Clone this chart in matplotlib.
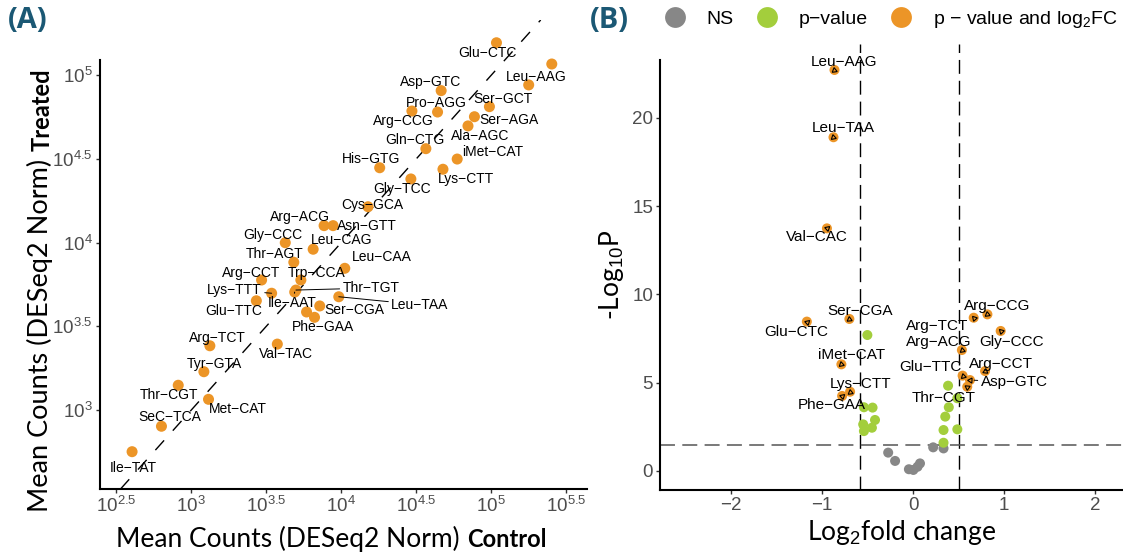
import numpy as np
import matplotlib
matplotlib.use('Agg')
import matplotlib.pyplot as plt
from matplotlib.lines import Line2D

plt.rcParams['font.family'] = ['Liberation Sans', 'DejaVu Sans']
plt.rcParams['mathtext.fontset'] = 'custom'
plt.rcParams['mathtext.rm'] = 'Liberation Sans'
plt.rcParams['mathtext.it'] = 'Liberation Sans:italic'
plt.rcParams['mathtext.bf'] = 'Liberation Sans:bold'

ORANGE = '#EC9527'
GREEN = '#A3CE3C'
GREY = '#878787'
TEAL = '#1B5874'
TICKCOL = '#4D4D4D'

W, H = 1123, 554

# ---- panel A: log10 of mean DESeq2-normalised counts ----
trna_a = ['Glu−CTC', '', 'Leu−AAG', 'Asp−GTC', 'Ser−GCT', 'Arg−CCG', 'Pro−AGG',
          'Ser−AGA', 'Ala−AGC', 'Gln−CTG', 'iMet−CAT', 'His−GTG', 'Lys−CTT',
          'Gly−TCC', 'Cys−GCA', 'Arg−ACG', 'Asn−GTT', 'Gly−CCC', 'Leu−CAG',
          'Thr−AGT', 'Leu−CAA', 'Arg−CCT', 'Trp−CCA', 'Thr−TGT', 'Lys−TTT',
          'Ile−AAT', 'Leu−TAA', 'Glu−TTC', 'Ser−CGA', '', 'Phe−GAA', 'Arg−TCT',
          'Val−TAC', 'Tyr−GTA', 'Thr−CGT', 'Met−CAT', 'SeC−TCA', 'Ile−TAT']
control_log = [5.036, 5.405, 5.251, 4.667, 4.989, 4.472, 4.643, 4.889, 4.846,
               4.565, 4.774, 4.257, 4.679, 4.465, 4.179, 3.886, 3.946, 3.627,
               3.813, 3.684, 4.024, 3.469, 3.731, 3.698, 3.536, 3.690, 3.984,
               3.434, 3.857, 3.769, 3.822, 3.124, 3.574, 3.084, 2.913, 3.115,
               2.801, 2.605]
treated_log = [5.195, 5.068, 4.943, 4.909, 4.813, 4.787, 4.781, 4.753, 4.698,
               4.562, 4.500, 4.448, 4.439, 4.381, 4.215, 4.102, 4.102, 4.000,
               3.961, 3.883, 3.847, 3.777, 3.777, 3.717, 3.698, 3.705, 3.677,
               3.653, 3.622, 3.586, 3.554, 3.384, 3.394, 3.229, 3.148, 3.064,
               2.903, 2.751]

# label offsets from the point in pixels (dx right, dy down)
offs_a = {
    'Glu−CTC': (-9, 10), 'Leu−AAG': (8, -8), 'Asp−GTC': (-11, -9),
    'Ser−GCT': (14, -8), 'Arg−CCG': (-9, 10), 'Pro−AGG': (-1, -9),
    'Ser−AGA': (35, 3), 'Ala−AGC': (12, 10), 'Gln−CTG': (-11, -9),
    'iMet−CAT': (35, -7), 'His−GTG': (-9, -9), 'Lys−CTT': (23, 10),
    'Gly−TCC': (-9, 10), 'Cys−GCA': (4, -2), 'Arg−ACG': (-24, -9),
    'Asn−GTT': (34, 0), 'Gly−CCC': (-12, -8), 'Leu−CAG': (28, -9),
    'Thr−AGT': (-19, -8), 'Leu−CAA': (37, -11), 'Arg−CCT': (-10, -7),
    'Trp−CCA': (16, -7), 'Thr−TGT': (75, -2), 'Lys−TTT': (-37, -3),
    'Ile−AAT': (-3, 11), 'Leu−TAA': (81, 8), 'Glu−TTC': (-23, 10),
    'Ser−CGA': (35, 4), 'Phe−GAA': (9, 10), 'Arg−TCT': (8, -8),
    'Val−TAC': (9, 10), 'Tyr−GTA': (10, -8), 'Thr−CGT': (-9, 10),
    'Met−CAT': (29, 10), 'SeC−TCA': (8, -9), 'Ile−TAT': (1, 16),
}
seg_a = {'Thr−TGT', 'Lys−TTT', 'Ile−AAT', 'Leu−TAA'}

x_ticks_a = [2.5, 3, 3.5, 4, 4.5, 5, 5.5]
y_ticks_a = [3, 3.5, 4, 4.5, 5]

# ---- panel B: volcano ----
sig_names = ['Leu−AAG', 'Leu−TAA', 'Val−CAC', 'Glu−CTC', 'Ser−CGA', 'iMet−CAT',
             'Lys−CTT', 'Phe−GAA', 'Arg−TCT', 'Arg−CCG', 'Gly−CCC', 'Arg−ACG',
             'Glu−TTC', 'Arg−CCT', 'Asp−GTC', 'Thr−CGT']
sig_lfc = [-0.865, -0.876, -0.948, -1.169, -0.701, -0.789, -0.693, -0.781,
           0.667, 0.818, 0.964, 0.537, 0.545, 0.792, 0.626, 0.596]
sig_p = [22.71, 18.90, 13.74, 8.46, 8.61, 6.04, 4.49, 4.25,
         8.68, 8.87, 7.93, 6.85, 5.40, 5.66, 5.15, 4.77]
offs_b = {
    'Leu−AAG': (10, -8), 'Leu−TAA': (10, -9), 'Val−CAC': (-10, 9),
    'Glu−CTC': (-11, 10), 'Ser−CGA': (11, -8), 'iMet−CAT': (10, -9),
    'Lys−CTT': (10, -8), 'Phe−GAA': (-10, 9), 'Arg−TCT': (-37, 8),
    'Arg−CCG': (10, -8), 'Gly−CCC': (11, 11), 'Arg−ACG': (-23, -8),
    'Glu−TTC': (-32, -9), 'Arg−CCT': (16, -7), 'Asp−GTC': (44, 2),
    'Thr−CGT': (-24, 11),
}
seg_b = {'Asp−GTC'}

pval_lfc = [-0.503, -0.541, -0.446, -0.419, -0.549, -0.453, -0.541,
            0.385, 0.487, 0.393, 0.354, 0.335, 0.487, 0.335]
pval_p = [7.70, 3.61, 3.59, 2.89, 2.64, 2.45, 2.26,
          4.83, 4.12, 3.61, 3.08, 2.32, 2.36, 1.60]

ns_lfc = [-0.274, -0.198, -0.046, 0.003, 0.049, 0.076, 0.221, 0.335]
ns_p = [1.04, 0.57, 0.10, 0.06, 0.24, 0.43, 1.34, 1.28]

fc_cut = [-0.585, 0.505]
p_cut = 1.5

fig = plt.figure(figsize=(W / 100, H / 100), dpi=100)


def px2pt(dx, dy):
    return dx * 0.72, -dy * 0.72


def style_axes(ax):
    for s in ['top', 'right']:
        ax.spines[s].set_visible(False)
    for s in ['left', 'bottom']:
        ax.spines[s].set_linewidth(1.5)
    ax.tick_params(length=3, width=1, color='#333333', labelcolor=TICKCOL,
                   labelsize=13.5, pad=2)
    ax.minorticks_off()


# ---------------- panel A ----------------
axA = fig.add_axes([100 / W, (H - 489) / H, (587 - 100) / W, (489 - 20) / H])
axA.set_xscale('log')
axA.set_yscale('log')
ctrl = 10 ** np.array(control_log)
treat = 10 ** np.array(treated_log)
axA.set_xlim(10 ** 2.391, 10 ** 5.64)
axA.set_ylim(10 ** 2.528, 10 ** 5.331)
axA.axline((1e3, 1e3), (1e5, 1e5), color='black', lw=1.0,
           dashes=(9.4, 9.4), zorder=2)
axA.scatter(ctrl, treat, s=63, color=ORANGE, edgecolors='none', zorder=3,
            clip_on=False)
for name, x, y in zip(trna_a, ctrl, treat):
    if not name:
        continue
    dx, dy = offs_a[name]
    kw = {}
    if name in seg_a:
        kw['arrowprops'] = dict(arrowstyle='-', color='black', lw=0.7,
                                shrinkA=0, shrinkB=0)
    axA.annotate(name, (x, y), xytext=px2pt(dx, dy), textcoords='offset points',
                 ha='center', va='center', fontsize=10, zorder=4, **kw)
style_axes(axA)
axA.spines['left'].set_bounds(10 ** 2.528, 10 ** 5.092)
axA.set_xticks([10 ** v for v in x_ticks_a])
axA.set_xticklabels([r'$10^{%g}$' % v for v in x_ticks_a])
axA.set_yticks([10 ** v for v in y_ticks_a])
axA.set_yticklabels([r'$10^{%g}$' % v for v in y_ticks_a])

fig.text(116 / W, 1 - 547 / H, 'Mean Counts (DESeq2 Norm)', family='Lato',
         fontsize=19, ha='left', va='baseline')
fig.text(547 / W, 1 - 547 / H, 'Control', family='Lato', fontweight='bold',
         fontsize=17, ha='right', va='baseline')
fig.text(40 / W, 1 - 512 / H, 'Mean Counts (DESeq2 Norm)', family='Lato',
         fontsize=19.5, rotation=90, ha='center', va='bottom')
fig.text(42 / W, 1 - 68 / H, 'Treated', family='Lato', fontweight='bold',
         fontsize=17, rotation=90, ha='center', va='top')

# ---------------- panel B ----------------
axB = fig.add_axes([660 / W, (H - 490) / H, (W - 660) / W, (490 - 44) / H])
axB.set_xlim(-2.785, 2.31)
axB.set_ylim(-1.076, 24.18)
for c in fc_cut:
    axB.axvline(c, color='black', lw=1.0, dashes=(10, 5), zorder=1)
axB.axhline(p_cut, color='#555555', lw=1.1, dashes=(9.8, 4.8), zorder=1)
axB.scatter(ns_lfc, ns_p, s=52, color=GREY, edgecolors='none', zorder=3)
axB.scatter(pval_lfc, pval_p, s=52, color=GREEN, edgecolors='none', zorder=3)
axB.scatter(sig_lfc, sig_p, s=52, color=ORANGE, edgecolors='none', zorder=3,
            clip_on=False)
for name, x, y in zip(sig_names, sig_lfc, sig_p):
    dx, dy = offs_b[name]
    ang = np.degrees(np.arctan2(dy, -dx))  # direction from label to point
    axB.plot(x, y, marker=(3, 0, ang - 90), ms=4.2, mfc='none', mec='black',
             mew=0.8, ls='', zorder=4)
    kw = {}
    if name in seg_b:
        kw['arrowprops'] = dict(arrowstyle='-', color='black', lw=0.7,
                                shrinkA=0, shrinkB=3)
    axB.annotate(name, (x, y), xytext=px2pt(dx, dy), textcoords='offset points',
                 ha='center', va='center', fontsize=11, zorder=5, **kw)
style_axes(axB)
axB.spines['left'].set_bounds(-1.076, 23.27)
axB.set_xticks([-2, -1, 0, 1, 2])
axB.set_yticks([0, 5, 10, 15, 20])

fig.text(612 / W, 1 - 275 / H, '-Log$_{10}$P', family='Lato', fontsize=19,
         rotation=90, ha='center', va='center')
fig.text(902 / W, 1 - 540 / H, 'Log$_{2}$fold change', family='Lato',
         fontsize=19, ha='center', va='baseline')

handles = [Line2D([], [], marker='o', ls='', ms=15, color=c, mec='none')
           for c in (GREY, GREEN, ORANGE)]
fig.legend(handles, ['NS', 'p−value', 'p − value and log$_{2}$FC'],
           loc='center left', bbox_to_anchor=(665 / W, 1 - 19 / H), ncol=3,
           frameon=False, fontsize=14, handlelength=1.0, handletextpad=1.15,
           columnspacing=1.2, borderpad=0, borderaxespad=0)

fig.text(8 / W, 1 - 21 / H, '(A)', family='Open Sans', fontweight='bold',
         fontsize=21, color=TEAL, va='center', ha='left')
fig.text(590 / W, 1 - 21 / H, '(B)', family='Open Sans', fontweight='bold',
         fontsize=21, color=TEAL, va='center', ha='left')

fig.savefig('out.png', dpi=100)
